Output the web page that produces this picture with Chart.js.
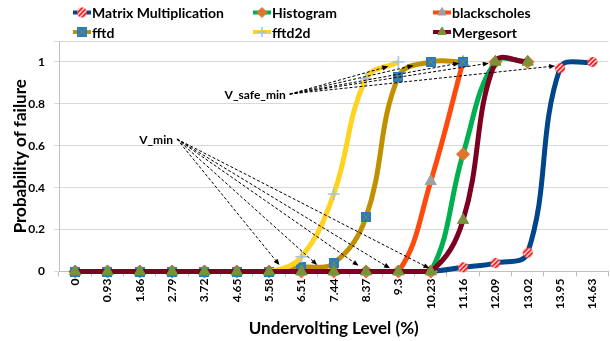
<!DOCTYPE html>
<html>
<head>
<meta charset="utf-8">
<script src="https://cdn.jsdelivr.net/npm/chart.js@4.4.1/dist/chart.umd.min.js"></script>
<style>
  html, body { margin: 0; padding: 0; background: #fff; overflow: hidden; }
  #wrap { width: 610px; height: 341px; overflow: hidden; }
</style>
</head>
<body>
<div id="wrap"><canvas id="chart" width="616" height="341"></canvas></div>
<script>
// Undervolting levels (category axis)
const levels = ['0', '0.93', '1.86', '2.79', '3.72', '4.65', '5.58', '6.51', '7.44', '8.37',
                '9.3', '10.23', '11.16', '12.09', '13.02', '13.95', '14.63'];

// Probability of failure per benchmark
const matrixMul    = [0, 0, 0, 0, 0, 0, 0, 0, 0, 0, 0, 0, 0.02, 0.04, 0.09, 0.97, 1.0];
const histogram    = [0, 0, 0, 0, 0, 0, 0, 0, 0, 0, 0, 0, 0.56, 1.0, 1.0, null, null];
const blackscholes = [0, 0, 0, 0, 0, 0, 0, 0, 0, 0, 0, 0.43, 1.0, null, null, null, null];
const fftd         = [0, 0, 0, 0, 0, 0, 0, 0.02, 0.04, 0.26, 0.93, 1.0, 1.0, null, null, null, null];
const fftd2d       = [0, 0, 0, 0, 0, 0, 0, 0.07, 0.37, 0.92, 1.0, null, null, null, null, null, null];
const mergesort    = [0, 0, 0, 0, 0, 0, 0, 0, 0, 0, 0, 0, 0.245, 1.0, 1.0, null, null];

const yTicks = [0, 0.2, 0.4, 0.6, 0.8, 1];

// Annotation arrows, in data units: [category index, probability]
const safeMinStart = [6.64, 0.847];
const safeMinEnds = [[9.69, 0.979], [10.47, 0.983], [11.88, 0.994], [12.8, 0.994], [14.85, 0.981]];
const vMinStart = [3.15, 0.632];
const vMinEnds = [[6.32, 0.031], [7.49, 0.031], [8.77, 0.028], [9.74, 0.015], [10.96, 0.015]];

const FONT = 'Lato';

// red/white striped dot for Matrix Multiplication
function stripedDot(r) {
    const s = r * 2 + 2;
    const c = document.createElement('canvas');
    c.width = s; c.height = s;
    const g = c.getContext('2d');
    g.beginPath();
    g.arc(s / 2, s / 2, r, 0, Math.PI * 2);
    g.fillStyle = '#FF0000';
    g.fill();
    g.save();
    g.clip();
    g.strokeStyle = '#fff';
    g.lineWidth = 1.4;
    for (let k = -s + 1; k < 2 * s; k += 4.5) {
        g.beginPath();
        g.moveTo(k, s);
        g.lineTo(k + s, 0);
        g.stroke();
    }
    g.restore();
    return c;
}

// blue square with an x inside for fftd
function crossedSquare(h) {
    const s = h * 2;
    const c = document.createElement('canvas');
    c.width = s; c.height = s;
    const g = c.getContext('2d');
    g.fillStyle = '#2A7AC0';
    g.fillRect(0, 0, s, s);
    g.strokeStyle = '#7D8C3C';
    g.lineWidth = 1;
    g.beginPath();
    g.moveTo(1.5, 1.5); g.lineTo(s - 1.5, s - 1.5);
    g.moveTo(s - 1.5, 1.5); g.lineTo(1.5, s - 1.5);
    g.stroke();
    return c;
}

const dotImg = stripedDot(5);
const squareImg = crossedSquare(5);

const datasets = [{
    label: 'Matrix Multiplication',
    data: matrixMul,
    borderColor: '#00468B',
    pointStyle: dotImg,
    pointBackgroundColor: '#FF0000',
    pointBorderColor: '#FF0000',
    pointRadius: 5,
    order: 6
}, {
    label: 'Histogram',
    data: histogram,
    borderColor: '#00B050',
    pointStyle: 'rectRot',
    pointBackgroundColor: '#E0762E',
    pointBorderColor: '#E0762E',
    pointRadius: 6.5,
    legendRadius: 5,
    order: 5
}, {
    label: 'blackscholes',
    data: blackscholes,
    borderColor: '#FF4A0E',
    pointStyle: 'triangle',
    pointBackgroundColor: '#A0A0A0',
    pointBorderColor: '#A0A0A0',
    pointRadius: 6.5,
    legendRadius: 5,
    order: 4
}, {
    label: 'fftd',
    data: fftd,
    borderColor: '#C09000',
    pointStyle: squareImg,
    pointBackgroundColor: '#2A7AC0',
    pointBorderColor: '#2A7AC0',
    pointRadius: 5,
    order: 3
}, {
    label: 'fftd2d',
    data: fftd2d,
    borderColor: '#FFD320',
    pointStyle: 'cross',
    pointBackgroundColor: '#9DC3E6',
    pointBorderColor: '#9DC3E6',
    pointBorderWidth: 1.5,
    pointRadius: ctx => (ctx.raw === 0 ? 0 : 6),
    legendRadius: 5,
    order: 2
}, {
    label: 'Mergesort',
    data: mergesort,
    borderColor: '#7E0021',
    pointStyle: 'triangle',
    pointBackgroundColor: '#77933C',
    pointBorderColor: '#77933C',
    pointRadius: 6.5,
    legendRadius: 5,
    order: 1
}];

datasets.forEach(function (ds) {
    ds.borderWidth = 5;
    ds.tension = 0.4;
    ds.fill = false;
    ds.clip = false;
    if (ds.pointBorderWidth === undefined) ds.pointBorderWidth = 1;
});

// Legend in three fixed columns, like the spreadsheet
const legendPlugin = {
    id: 'gridLegend',
    afterDraw(chart) {
        const ctx = chart.ctx;
        const cols = [73, 253, 433];
        const rows = [12.5, 32];
        ctx.save();
        chart.data.datasets.forEach(function (ds, i) {
            const x = cols[i % 3];
            const y = rows[Math.floor(i / 3)];
            ctx.strokeStyle = ds.borderColor;
            ctx.lineWidth = 4;
            ctx.beginPath();
            ctx.moveTo(x, y);
            ctx.lineTo(x + 18, y);
            ctx.stroke();
            ctx.fillStyle = ds.pointBackgroundColor;
            ctx.strokeStyle = ds.pointBorderColor;
            ctx.lineWidth = ds.pointBorderWidth;
            Chart.helpers.drawPoint(ctx, {
                pointStyle: ds.pointStyle,
                radius: ds.legendRadius || 5,
                rotation: 0,
                borderWidth: ds.pointBorderWidth
            }, x + 9, y);
            ctx.fillStyle = '#000';
            ctx.font = 'bold 14px ' + FONT;
            ctx.textBaseline = 'middle';
            ctx.textAlign = 'left';
            ctx.fillText(ds.label, x + 19, y + 1);
        });
        ctx.restore();
    }
};

// V_safe_min and V_min call-outs with dashed arrows
const calloutPlugin = {
    id: 'callouts',
    afterDatasetsDraw(chart) {
        const ctx = chart.ctx;
        const xs = chart.scales.x, ys = chart.scales.y;
        const px = p => [xs.getPixelForValue(p[0]), ys.getPixelForValue(p[1])];
        function callout(text, start, ends) {
            const s = px(start);
            ctx.save();
            ctx.strokeStyle = '#000';
            ctx.fillStyle = '#000';
            ctx.lineWidth = 1;
            ends.forEach(function (e) {
                const t = px(e);
                const ang = Math.atan2(t[1] - s[1], t[0] - s[0]);
                ctx.setLineDash([3, 2]);
                ctx.beginPath();
                ctx.moveTo(s[0], s[1]);
                ctx.lineTo(t[0] - Math.cos(ang) * 4, t[1] - Math.sin(ang) * 4);
                ctx.stroke();
                ctx.setLineDash([]);
                ctx.beginPath();
                ctx.moveTo(t[0], t[1]);
                ctx.lineTo(t[0] - Math.cos(ang) * 6 + Math.sin(ang) * 2.5, t[1] - Math.sin(ang) * 6 - Math.cos(ang) * 2.5);
                ctx.lineTo(t[0] - Math.cos(ang) * 6 - Math.sin(ang) * 2.5, t[1] - Math.sin(ang) * 6 + Math.cos(ang) * 2.5);
                ctx.closePath();
                ctx.fill();
            });
            ctx.font = 'bold 12px ' + FONT;
            ctx.textAlign = 'right';
            ctx.textBaseline = 'middle';
            ctx.fillText(text, s[0] - 4, s[1] + 1);
            ctx.restore();
        }
        callout('V_safe_min', safeMinStart, safeMinEnds);
        callout('V_min', vMinStart, vMinEnds);
    }
};

const chart = new Chart(document.getElementById('chart'), {
    type: 'line',
    data: {
        labels: levels,
        datasets: datasets
    },
    options: {
        responsive: false,
        animation: false,
        layout: {
            padding: { top: 41, right: 2, left: 0, bottom: 0 }
        },
        plugins: {
            legend: { display: false },
            tooltip: { enabled: false }
        },
        scales: {
            x: {
                offset: true,
                grid: { drawOnChartArea: false, offset: true, tickLength: 5, color: '#BFBFBF' },
                border: { color: '#BFBFBF' },
                ticks: {
                    autoSkip: false,
                    minRotation: 90,
                    maxRotation: 90,
                    padding: 2,
                    color: '#000',
                    font: { family: FONT, weight: 'bold', size: 12 }
                },
                title: {
                    display: true,
                    text: 'Undervolting Level (%)',
                    color: '#000',
                    font: { family: FONT, weight: 'bold', size: 17 },
                    padding: { top: 0, bottom: 2 }
                },
                afterFit: function (s) { s.height = 69.5; }
            },
            y: {
                min: 0,
                max: 1.1,
                afterBuildTicks: function (s) {
                    s.ticks = yTicks.concat([1.1]).map(v => ({ value: v }));
                },
                grid: { color: '#D9D9D9', tickLength: 5 },
                border: { color: '#BFBFBF' },
                ticks: {
                    padding: 9,
                    color: '#000',
                    font: { family: FONT, weight: 'bold', size: 12 },
                    callback: v => (v > 1.05 ? '' : String(v))
                },
                title: {
                    display: true,
                    text: 'Probability of failure',
                    color: '#000',
                    font: { family: FONT, weight: 'bold', size: 17 },
                    padding: { top: 10, bottom: 0 }
                },
                afterFit: function (s) { s.width = 59; }
            }
        }
    },
    plugins: [legendPlugin, calloutPlugin]
});
</script>
</body>
</html>
